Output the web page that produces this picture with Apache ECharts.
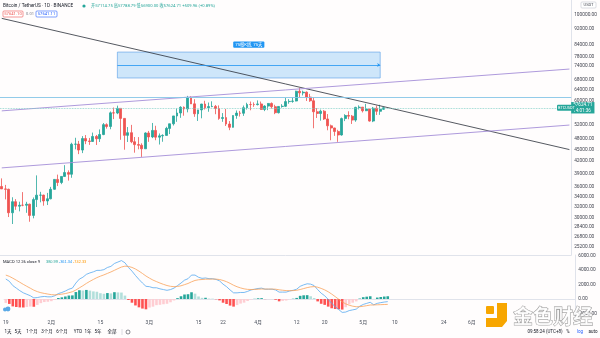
<!DOCTYPE html>
<html><head><meta charset="utf-8">
<script src="https://cdn.jsdelivr.net/npm/echarts@6/dist/echarts.min.js"></script>
<style>html,body{margin:0;padding:0;background:#fff}#c{width:600px;height:338px}</style>
</head><body><div id="c"></div>
<script>
const FONT = 'Roboto, "Noto Sans CJK SC", sans-serif';
// categories: daily bars from 2021-01-19, axis runs to 2021-06-30
const firstDay = '2021-01-19';
const dayCount = 163;
const dates = [];
for (let k = 0; k < dayCount; k++) {
  dates.push(new Date(Date.parse(firstDay + 'T00:00:00Z') + k * 86400000).toISOString().slice(0, 10));
}
const tickLabels = {'2021-01-19':'19','2021-02-01':'2月','2021-02-15':'15','2021-03-01':'3月','2021-03-15':'15','2021-03-22':'22','2021-04-01':'4月','2021-04-12':'12','2021-04-20':'20','2021-05-01':'5月','2021-05-10':'10','2021-05-24':'24','2021-06-01':'6月'};
const priceLabels = [100000,92000,84000,78000,74000,68000,64000,60000,52000,48000,45000,42000,39000,36000,34000,32000,30000,28400,26800,25200];
const macdLabels = [-2000,0,2000,4000,6000];
// [open, high, low, close]
const candles = [
[36069,37850,35844,35548],[35548,36415,33400,35470],[35470,35600,30071,30850],[30850,33827,28850,32945],[32945,33456,31390,32078],
[32078,32944,31106,32260],[32260,34882,32067,32254],[32254,32921,30837,32467],[32467,32557,29241,30366],[30366,33783,29842,33364],
[33364,38531,31915,34252],[34252,34933,32825,34262],[34262,34342,32171,33092],[33092,34717,32296,33526],[33518,35984,33418,35466],
[35466,37662,35362,37618],[37619,38708,36161,36936],[36936,38310,36570,38290],[38289,40955,38215,39186],[39181,39700,37351,38795],
[38795,46794,37988,46374],[46374,48200,45000,46420],[46421,47310,43727,44807],[44807,48678,43994,47969],[47969,48985,46400,47287],
[47298,48150,46202,47153],[47157,49707,47014,48577],[48580,49010,46174,47911],[47911,50650,47003,49133],[49134,52618,48948,52119],
[52117,52530,50901,51552],[51553,56368,50710,55906],[55906,57700,53863,55841],[55841,58352,55477,57408],[57412,57508,47622,54087],
[54087,54183,44892,48891],[48891,51374,47003,49676],[49677,52041,46674,47073],[47073,48424,44106,46276],[46277,48394,45000,46106],
[46103,46638,43000,45135],[45134,49790,45115,49587],[49595,50200,47047,48440],[48436,52640,48100,50349],[50349,51773,47500,48374],
[48374,49448,46300,48751],[48746,49200,47070,48882],[48882,51450,48882,50971],[50959,52402,49274,52375],[52376,54895,51845,54884],
[54874,57387,53005,55851],[55851,58150,54272,57773],[57773,58081,54962,57221],[57221,61844,56078,61188],[61188,61724,58966,58968],
[58976,60633,54600,55605],[55605,56939,53271,56900],[56900,58982,54123,58912],[58926,60074,57023,57648],[57644,59450,56270,58030],
[58030,59880,57820,58102],[58100,58589,55450,57351],[57351,58430,53650,54083],[54084,55830,53000,54340],[54342,57200,51700,52303],
[52303,53230,50427,51293],[51293,55073,51214,55025],[55025,56700,53967,55817],[55817,56559,54691,55777],[55777,58400,54900,57635],
[57635,59368,57000,58746],[58740,59800,56769,58740],[58740,59490,57935,58720],[58720,60200,58428,58950],[58950,59791,56900,57051],
[57051,58500,56478,58202],[58202,59251,56800,59129],[59129,59474,57333,57991],[57990,58650,55473,55953],[55953,58153,55700,58077],
[58077,58869,57654,58142],[58142,61220,57870,59769],[59769,60659,59016,59860],[59860,61299,59374,59984],[59984,63774,59869,63588],
[63588,64854,61301,62970],[62960,63800,62020,63229],[63226,63520,60000,61427],[61427,62572,59700,60058],[60067,61281,51000,56274],
[56274,57526,54222,55696],[55697,57000,53360,56474],[56471,56815,53600,53906],[53906,55500,50400,51763],[51763,52130,47500,51093],
[51094,51166,48750,50050],[50047,50544,47044,49004],[49004,54356,48817,54021],[54031,55460,53222,55033],[55033,56428,53813,54824],
[54824,55195,52330,53555],[53555,57963,53013,57750],[57714,58458,57052,57828],[57825,57902,56041,56610],[56620,58973,56478,57213],
[57214,57214,53057,53241],[53241,57911,52900,57473],[57473,58360,55200,56428],[56428,58650,55241,57114.75],[57114.75,57788.79,56900,57624.71]
];
const macdLine = [
2760,2450,1850,1500,1150,850,650,450,150,200,
300,350,300,300,450,750,900,1100,1350,1500,
2200,2750,3000,3400,3600,3750,3950,3950,4050,4350,
4500,4900,5100,5300,5000,4350,3850,3250,2700,2200,
1750,1700,1550,1550,1400,1300,1200,1300,1500,1850,
2200,2600,2800,3300,3300,3000,2850,2900,2800,2800,
2700,2500,2050,1700,1250,850,850,900,900,1050,
1250,1350,1450,1500,1350,1350,1350,1250,950,950,
950,1100,1200,1350,1750,1950,2100,2050,1850,1300,
800,450,-50,-600,-1050,-1450,-1850,-1800,-1600,-1500,
-1400,-1000,-750,-600,-450,-800,-600,-500,-420,-361.34];
const signalLine = [
3300,3130,2870,2600,2310,2020,1750,1490,1220,1020,
870,770,680,600,570,610,670,750,870,1000,
1240,1540,1830,2150,2440,2700,2950,3150,3330,3530,
3730,3960,4190,4410,4530,4490,4360,4140,3850,3520,
3170,2880,2610,2400,2200,2020,1860,1750,1700,1730,
1820,1980,2140,2370,2560,2650,2690,2730,2740,2750,
2740,2690,2560,2390,2160,1900,1690,1530,1400,1330,
1310,1320,1350,1380,1370,1370,1370,1350,1270,1210,
1160,1150,1160,1200,1310,1440,1570,1670,1710,1630,
1460,1260,1000,680,330,-30,-390,-670,-860,-990,
-1070,-1060,-1000,-920,-830,-820,-800,-780,-760,-742.33];
// drawings (date, price)
const downTrend = [['2021-01-19',98100],['2021-06-30',44930]];
const channelTop = [['2021-01-19',56570],['2021-06-30',72550]];
const channelBottom = [['2021-01-19',40290],['2021-06-30',51990]];
const resistance = 61400;
const dateRange = [['2021-02-21',80260],['2021-05-07',68800]];
const dateRangeMid = 74300;
const lastPrice = 57624.71;

const UP='#26a69a', DOWN='#ef5350';
const hist = macdLine.map((m,i)=>m - signalLine[i]);
const histData = hist.map((h,i)=>{
  const p = i>0 ? hist[i-1] : h;
  const c = h>=0 ? (h>=p ? '#26a69a' : '#b2dfdb') : (h<p ? '#ff5252' : '#ffcdd2');
  return {value:h, itemStyle:{color:c}};
});

const chart = echarts.init(document.getElementById('c'), null, {renderer:'canvas'});
const axisCol = '#e0e3eb';
chart.setOption({
  animation:false,
  backgroundColor:'#fffdfd',
  textStyle:{fontFamily:FONT},
  grid:[{left:0,right:23,top:0,height:255},{left:0,right:23,top:255,height:63}],
  xAxis:[
    {type:'category',gridIndex:0,data:dates,axisLine:{show:true,lineStyle:{color:axisCol}},axisTick:{show:false},axisLabel:{show:false},splitLine:{show:false}},
    {type:'category',gridIndex:1,data:dates,axisLine:{show:true,lineStyle:{color:axisCol}},axisTick:{show:false},
     axisLabel:{interval:0,formatter:v=>tickLabels[v]||'',fontSize:5,color:'#4c525e',margin:2,fontFamily:FONT},splitLine:{show:false}}
  ],
  yAxis:[
    {type:'log',gridIndex:0,position:'right',min:23990,max:109430,axisLine:{show:true,lineStyle:{color:axisCol}},axisTick:{show:false},axisLabel:{show:false},splitLine:{show:false}},
    {type:'value',gridIndex:0,position:'right',min:Math.log10(23990),max:Math.log10(109430),axisLine:{show:false},axisTick:{show:false},splitLine:{show:false},
     axisLabel:{customValues:priceLabels.map(v=>Math.log10(v)),formatter:v=>Math.round(Math.pow(10,v)).toFixed(2),fontSize:4.8,color:'#434651',margin:3,fontFamily:FONT}},
    {type:'value',gridIndex:1,position:'right',min:-2620,max:6070,axisLine:{show:true,lineStyle:{color:axisCol}},axisTick:{show:false},splitLine:{show:false},
     axisLabel:{customValues:macdLabels,formatter:v=>v.toFixed(2),fontSize:4.8,color:'#434651',margin:3,fontFamily:FONT}}
  ],
  series:[
    {type:'candlestick',xAxisIndex:0,yAxisIndex:0,barWidth:2.4,
     data:candles.map(r=>[r[0],r[3],r[2],r[1]]),
     itemStyle:{color:UP,color0:DOWN,borderColor:UP,borderColor0:DOWN,borderWidth:0.8},
     markArea:{silent:true,
       itemStyle:{color:'rgba(33,150,243,0.22)',borderColor:'#6aa9e9',borderWidth:0.7},
       label:{show:true,position:'top',distance:4,formatter:'75根K线, 75天',color:'#fff',backgroundColor:'#2196f3',fontSize:4.3,padding:[1,2],borderRadius:1,fontFamily:FONT},
       data:[[{coord:dateRange[0]},{coord:dateRange[1]}]]},
     markLine:{silent:true,symbol:['none','none'],label:{show:false},animation:false,
       data:[
         [{coord:downTrend[0],lineStyle:{color:'#2a2e39',width:0.8,type:'solid'}},{coord:downTrend[1]}],
         [{coord:channelTop[0],lineStyle:{color:'#a58fd8',width:0.9,type:'solid'}},{coord:channelTop[1]}],
         [{coord:channelBottom[0],lineStyle:{color:'#a58fd8',width:0.9,type:'solid'}},{coord:channelBottom[1]}],
         [{coord:[dateRange[0][0],dateRangeMid],symbol:'none',lineStyle:{color:'#2196f3',width:0.8,type:'solid'}},{coord:[dateRange[1][0],dateRangeMid],symbol:'arrow',symbolSize:3}],
         {yAxis:resistance,lineStyle:{color:'#86c5e6',width:0.9,type:'solid'}},
         {yAxis:lastPrice,lineStyle:{color:'#7fcfc6',width:0.8,type:'dotted'},
          label:{show:true,position:'end',distance:0,formatter:'57624.71\n14:01:36',color:'#fff',backgroundColor:UP,fontSize:4.6,lineHeight:5.2,padding:[0.5,2],fontFamily:FONT}}
       ]}
    },
    {type:'bar',xAxisIndex:1,yAxisIndex:2,barWidth:2.6,data:histData},
    {type:'line',xAxisIndex:1,yAxisIndex:2,data:macdLine,symbol:'none',lineStyle:{color:'#57aaf0',width:0.8}},
    {type:'line',xAxisIndex:1,yAxisIndex:2,data:signalLine,symbol:'none',lineStyle:{color:'#f9a25a',width:0.8}}
  ]
});

const g = [];
const txt = (x,y,text,opt) => g.push({type:'text',x:x,y:y,z:100,style:Object.assign({text:text,fontSize:4.6,fill:'#131722',fontFamily:FONT,verticalAlign:'middle',align:'left'},opt||{})});
const box = (x,y,w,h,opt) => g.push({type:'rect',z:99,shape:{x:x,y:y,width:w,height:h,r:1},style:Object.assign({fill:'#fff',lineWidth:0.6},opt||{})});
txt(3,6,'Bitcoin / TetherUS · 1D · BINANCE',{fontSize:4.7});
g.push({type:'circle',z:100,shape:{cx:84,cy:6,r:1.6},style:{fill:UP}});
txt(91,6,'开57114.75 高57788.79 低56900.00 收57624.71 +509.96 (+0.89%)',{fontSize:4.2,fill:UP});
box(3,11,20,6,{stroke:'#ef5350'}); txt(13,14,'57641.10',{align:'center',fill:'#ef5350',fontSize:4.2});
txt(30,14,'0.01',{align:'center',fill:'#787b86',fontSize:4});
box(36,11,21,6,{stroke:'#2962ff'}); txt(46.5,14,'57641.11',{align:'center',fill:'#2962ff',fontSize:4.2});
box(581,2,15,6,{stroke:'#c5c8d0'}); txt(588.5,5,'USDT',{align:'center',fontSize:4,fill:'#434651'});
txt(3,262,'MACD 12 26 close 9',{fontSize:4.1});
txt(46,262,'{a|380.99} {b|-361.34} {c|-742.33}',{fontSize:3.9,rich:{a:{fill:UP,fontSize:3.9},b:{fill:'#2196f3',fontSize:3.9},c:{fill:'#ff9800',fontSize:3.9}}});
// toolbar
[['1天',8],['5天',18],['1个月',32],['3个月',47],['6个月',62],['YTD',78],['1年',88],['5年',98],['全部',112]].forEach(t=>txt(t[1],332,t[0],{align:'center',fontSize:4.5}));
g.push({type:'line',z:100,shape:{x1:122,y1:329,x2:122,y2:335},style:{stroke:'#c5c8d0',lineWidth:0.6}});
g.push({type:'circle',z:100,shape:{cx:128,cy:332,r:2},style:{fill:'none',stroke:'#131722',lineWidth:0.5}});
txt(545,332,'09:58:24 (UTC+8)',{align:'center',fontSize:4.5});
txt(568,332,'%',{align:'center',fontSize:4.5});
txt(580,332,'log',{align:'center',fontSize:4.5,fill:'#2962ff'});
txt(593,332,'auto',{align:'center',fontSize:4.5});
// TradingView mark
g.push({type:'circle',z:100,shape:{cx:5,cy:309.5,r:2},style:{fill:'#5aa9e6'}});
g.push({type:'circle',z:100,shape:{cx:8,cy:309,r:2.4},style:{fill:'#5aa9e6'}});
// watermark
g.push({type:'rect',z:101,shape:{x:486,y:306,width:8,height:8,r:1},style:{fill:'#f7a600'}});
g.push({type:'polygon',z:101,shape:{points:[[497,303],[507,303],[507,321],[502,327],[486,327],[486,318],[497,318]]},style:{fill:'#f7a600'}});
g.push({type:'text',z:101,x:513,y:316,style:{text:'金色财经',fontSize:20,fontWeight:'bold',fontFamily:'"Noto Sans CJK SC", sans-serif',fill:'rgba(255,255,255,0.75)',stroke:'rgba(110,110,110,0.75)',lineWidth:0.8,verticalAlign:'middle',align:'left'}});
// symbol tag beside the last-price label
const yLast = chart.convertToPixel({yAxisIndex:0}, lastPrice);
box(557,yLast-3,19,6,{fill:UP,stroke:UP,lineWidth:0});
txt(566.5,yLast,'BTCUSDT',{align:'center',fill:'#fff',fontSize:3.9});
chart.setOption({graphic:g});
</script></body></html>
